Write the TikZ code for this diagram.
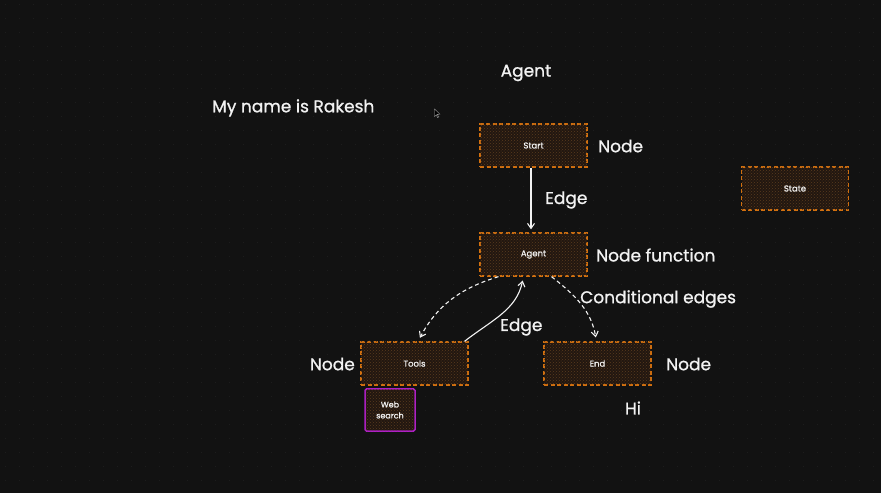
\documentclass[tikz,border=0pt]{standalone}
\usepackage{fontspec}
\setmainfont{Poppins}
\newfontfamily\lblfont{Poppins}[FakeBold=1]
\usetikzlibrary{arrows.meta,patterns}
\definecolor{bg}{HTML}{121212}
\definecolor{boxorange}{HTML}{D2700F}
\definecolor{boxfill}{HTML}{221710}
\definecolor{hatch}{HTML}{5A3B1E}
\definecolor{webpurple}{HTML}{B01FC8}
\definecolor{txt}{HTML}{F2F2F2}
\definecolor{griddot}{HTML}{1D1D1D}
\tikzset{
  x=1pt,y=1pt,
  flowbox/.style={draw=boxorange, line width=1.3pt, dash pattern=on 4pt off 2.5pt,
    fill=boxfill, postaction={pattern=crosshatch dots, pattern color=hatch},
    minimum width=107pt, minimum height=43pt, inner sep=0pt,
    text=txt, font=\lblfont\fontsize{8.5}{10}\selectfont},
  websearch/.style={draw=webpurple, line width=1.5pt, rounded corners=1.5pt,
    fill=boxfill, postaction={pattern=crosshatch dots, pattern color=hatch},
    minimum width=50pt, minimum height=42pt, inner sep=0pt, align=center,
    text=txt, font=\lblfont\fontsize{8}{11}\selectfont},
  label/.style={text=txt, font=\lblfont\fontsize{17}{19}\selectfont, inner sep=0pt},
  solidarrow/.style={draw=txt, line width=1.1pt, -{Straight Barb[length=5pt,width=7pt]}},
  dasharrow/.style={draw=txt, line width=1.1pt, dash pattern=on 4pt off 3pt, -{Straight Barb[length=5pt,width=7pt]}},
}
\begin{document}
\begin{tikzpicture}
\fill[bg] (0,0) rectangle (881,493);
\useasboundingbox (0,0) rectangle (881,493);
\foreach \i in {0,...,62}{
  \foreach \j in {0,...,35}{
    \fill[griddot] (5+14*\i,488-14*\j) rectangle ++(1.2,1.2);
  }
}
% boxes
\node[flowbox] (start) at (533.5,347.5) {Start};
\node[flowbox] (agent) at (533.5,238.5) {Agent};
\node[flowbox] (tools) at (414.5,129.5) {Tools};
\node[flowbox] (end) at (597.5,129.5) {End};
\node[flowbox] (state) at (795,304.5) {State};
\node[websearch] (web) at (390,83) {Web\\search};
% labels
\node[label] (title) at (526,420) {Agent};
\node[label, anchor=west] (myname) at (212,385) {My name is Rakesh};
\node[label, anchor=west] (lnode1) at (598,347) {Node};
\node[label, anchor=west] (ledge1) at (545,293) {Edge};
\node[label, anchor=west] (lnodefn) at (596,238) {Node function};
\node[label, anchor=west] (lcond) at (580,194) {Conditional edges};
\node[label, anchor=west] (ledge2) at (500,166) {Edge};
\node[label, anchor=east] (lnode2) at (355,129) {Node};
\node[label, anchor=west] (lnode3) at (666,129) {Node};
\node[label] (hi) at (633,85) {Hi};
% cursor
\filldraw[draw=gray!70, fill=black, line width=0.4pt] (434.5,384) -- (434.5,376.5) -- (436.3,378.2) -- (437.6,375.4) -- (438.6,375.9) -- (437.4,378.6) -- (439.8,378.8) -- cycle;
% connectors
\draw[solidarrow, shorten >=3pt] ([xshift=-2.5pt]start.south) -- ([xshift=-2.5pt]agent.north);
\draw[dasharrow, shorten >=4pt] ([xshift=-35pt]agent.south) to[out=197,in=62] ([xshift=3.5pt]tools.north);
\draw[solidarrow, shorten >=4pt] ([xshift=50pt]tools.north) to[out=38,in=258] ([xshift=-10pt]agent.south);
\draw[dasharrow, shorten >=4pt] ([xshift=18pt]agent.south) to[out=-38,in=100] ([xshift=-1pt]end.north);
\end{tikzpicture}
\end{document}
